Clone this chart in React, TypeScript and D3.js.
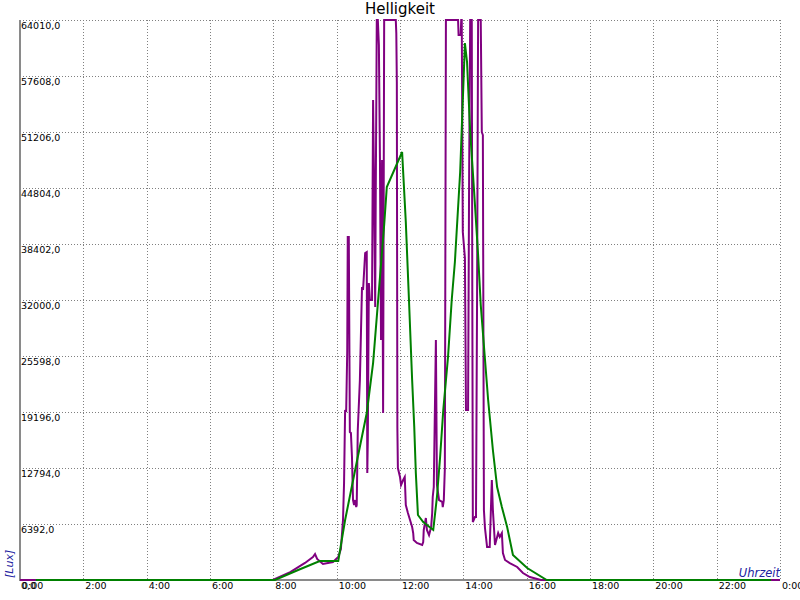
import { useEffect, useRef } from 'react';
import * as d3 from 'd3';

// purple: fine-grained measurement, [time, lux]
const purpleSeries: [string, number][] = [
  ['0:00', 0], ['7:59', 0], ['8:32', 900], ['9:00', 1950], ['9:15', 2630], ['9:19', 2970],
  ['9:23', 2400], ['9:34', 1830], ['9:53', 2060], ['10:03', 2630], ['10:08', 3540], ['10:12', 6860],
  ['10:14', 11090], ['10:16', 19430], ['10:18', 19200], ['10:20', 26060], ['10:21', 39200], ['10:23', 39200],
  ['10:25', 16920], ['10:27', 16800], ['10:29', 14060], ['10:31', 9140], ['10:33', 8570], ['10:35', 9140],
  ['10:37', 8340], ['10:38', 8570], ['10:40', 17150], ['10:44', 22860], ['10:48', 33490], ['10:50', 33150],
  ['10:54', 37380], ['10:57', 37490], ['10:58', 12230], ['10:59', 16000], ['11:01', 33950], ['11:03', 32000],
  ['11:07', 32000], ['11:09', 54860], ['11:11', 44350], ['11:13', 31200], ['11:14', 43430], ['11:16', 64010],
  ['11:18', 64010], ['11:20', 61150], ['11:22', 48240], ['11:24', 27430], ['11:26', 48010], ['11:28', 19090],
  ['11:30', 64010], ['11:52', 64010], ['11:53', 62520], ['11:54', 56920], ['11:55', 17490], ['11:56', 12800],
  ['12:00', 11770], ['12:02', 10860], ['12:06', 11430], ['12:09', 11770], ['12:11', 8570], ['12:15', 7660],
  ['12:19', 6860], ['12:23', 6060], ['12:25', 5370], ['12:26', 4570], ['12:32', 4230], ['12:42', 4000],
  ['12:44', 4340], ['12:45', 5720], ['12:49', 7090], ['12:51', 5720], ['12:55', 5140], ['12:59', 6060],
  ['13:01', 7660], ['13:02', 9490], ['13:04', 10630], ['13:08', 27430], ['13:10', 10860], ['13:14', 9140],
  ['13:20', 8920], ['13:21', 8340], ['13:23', 9140], ['13:25', 12800], ['13:27', 64010], ['13:50', 64010],
  ['13:51', 62290], ['13:55', 62290], ['13:56', 64010], ['13:57', 64010], ['13:59', 39780], ['14:03', 36800],
  ['14:05', 19430], ['14:09', 19430], ['14:11', 46630], ['14:13', 64010], ['14:16', 64010], ['14:17', 32800],
  ['14:18', 6630], ['14:22', 7200], ['14:24', 7200], ['14:26', 32000], ['14:28', 64010], ['14:33', 64010],
  ['14:35', 51210], ['14:37', 50860], ['14:39', 8000], ['14:41', 5940], ['14:45', 3770], ['14:50', 3770],
  ['14:54', 11430], ['14:56', 8000], ['15:00', 4000], ['15:04', 4920], ['15:06', 5370], ['15:09', 4920],
  ['15:13', 5370], ['15:15', 3090], ['15:19', 2290], ['15:28', 1940], ['15:42', 1490], ['15:53', 800],
  ['16:06', 340], ['16:27', 0], ['24:00', 0],
];

// green: smoothed series
const greenSeries: [string, number][] = [
  ['0:30', 0], ['8:03', 0], ['8:47', 1140], ['9:28', 2170], ['10:03', 2170], ['10:16', 6860],
  ['10:35', 12570], ['10:57', 19090], ['11:09', 24800], ['11:30', 40580], ['11:35', 44920], ['12:04', 48920],
  ['12:11', 40920], ['12:17', 32000], ['12:23', 22860], ['12:27', 17490], ['12:30', 12230], ['12:34', 7430],
  ['12:44', 6630], ['13:03', 5720], ['13:10', 9490], ['13:16', 14060], ['13:22', 19430], ['13:31', 25490],
  ['13:38', 32000], ['13:44', 36350], ['13:54', 46630], ['14:03', 61380], ['14:07', 59210], ['14:13', 51210],
  ['14:20', 44810], ['14:28', 37150], ['14:33', 31430], ['14:47', 20570], ['14:56', 14860], ['15:04', 10630],
  ['15:13', 8340], ['15:23', 6060], ['15:34', 2860], ['16:01', 1370], ['16:38', 0], ['23:43', 0],
];

const yTicks = [64010, 57608, 51206, 44804, 38402, 32000, 25598, 19196, 12794, 6392, 0];
const xTickHours = [0, 2, 4, 6, 8, 10, 12, 14, 16, 18, 20, 22, 24];
const xTickLabels = ['0:00', '2:00', '4:00', '6:00', '8:00', '10:00', '12:00', '14:00', '16:00', '18:00', '20:00', '22:00', '0:00'];

const toMin = (s: string) => {
  const [h, m] = s.split(':').map(Number);
  return h * 60 + m;
};

export default function App() {
  const svgRef = useRef<SVGSVGElement>(null);

  useEffect(() => {
    document.body.style.margin = '0';
    if (!svgRef.current) return;
    const svg = d3.select(svgRef.current);
    svg.selectAll('*').remove();

    const width = 800;
    const height = 600;
    const left = 20, right = 780, top = 20, bottom = 580;
    const font = 'DejaVu Sans';

    const x = d3.scaleLinear().domain([0, 24 * 60]).range([left, right]);
    const y = d3.scaleLinear().domain([0, 64010]).range([bottom, top]);

    svg.append('rect').attr('width', width).attr('height', height).attr('fill', '#fff');

    // grid
    const grid = svg.append('g').attr('stroke', '#808080').attr('stroke-width', 1).attr('stroke-dasharray', '1,2');
    xTickHours.filter(h => h > 0).forEach(h => {
      const gx = Math.round(x(h * 60)) + 0.5;
      grid.append('line').attr('x1', gx).attr('x2', gx).attr('y1', top).attr('y2', bottom);
    });
    yTicks.filter(v => v > 0).forEach(v => {
      const gy = Math.round(y(v)) + 0.5;
      grid.append('line').attr('x1', left).attr('x2', right).attr('y1', gy).attr('y2', gy);
    });

    // axes
    svg.append('line').attr('x1', left).attr('x2', left).attr('y1', top).attr('y2', bottom + 1)
      .attr('stroke', '#8a8a8a').attr('stroke-width', 2);
    svg.append('line').attr('x1', left).attr('x2', right).attr('y1', bottom).attr('y2', bottom)
      .attr('stroke', '#8a8a8a').attr('stroke-width', 2);

    const line = d3.line<[string, number]>()
      .x(d => x(toMin(d[0])))
      .y(d => y(d[1]));

    svg.append('path').datum(purpleSeries).attr('d', line)
      .attr('fill', 'none').attr('stroke', '#800080').attr('stroke-width', 2);
    svg.append('path').datum(greenSeries).attr('d', line)
      .attr('fill', 'none').attr('stroke', '#008000').attr('stroke-width', 2);

    // y tick labels
    yTicks.forEach(v => {
      svg.append('text')
        .attr('x', left + 1)
        .attr('y', v === 0 ? bottom + 9 : y(v) + 9)
        .attr('font-family', font)
        .attr('font-size', 9.5)
        .attr('fill', '#000')
        .text(v.toFixed(1).replace('.', ','));
    });

    // x tick labels
    xTickHours.forEach((h, i) => {
      svg.append('text')
        .attr('x', x(h * 60) + 2)
        .attr('y', bottom + 9)
        .attr('font-family', font)
        .attr('font-size', 9.5)
        .attr('fill', '#000')
        .text(xTickLabels[i]);
    });

    svg.append('text')
      .attr('x', width / 2)
      .attr('y', 13.5)
      .attr('text-anchor', 'middle')
      .attr('font-family', font)
      .attr('font-size', 15)
      .attr('fill', '#000')
      .text('Helligkeit');

    svg.append('text')
      .attr('transform', `translate(13, ${bottom - 2}) rotate(-90)`)
      .attr('font-family', font)
      .attr('font-style', 'italic')
      .attr('font-size', 11)
      .attr('fill', '#2222a0')
      .text('[Lux]');

    svg.append('text')
      .attr('x', right)
      .attr('y', bottom - 3)
      .attr('text-anchor', 'end')
      .attr('font-family', font)
      .attr('font-style', 'italic')
      .attr('font-size', 11.5)
      .attr('fill', '#2222a0')
      .text('Uhrzeit');
  }, []);

  return <svg ref={svgRef} width={800} height={600} style={{ display: 'block' }} />;
}
